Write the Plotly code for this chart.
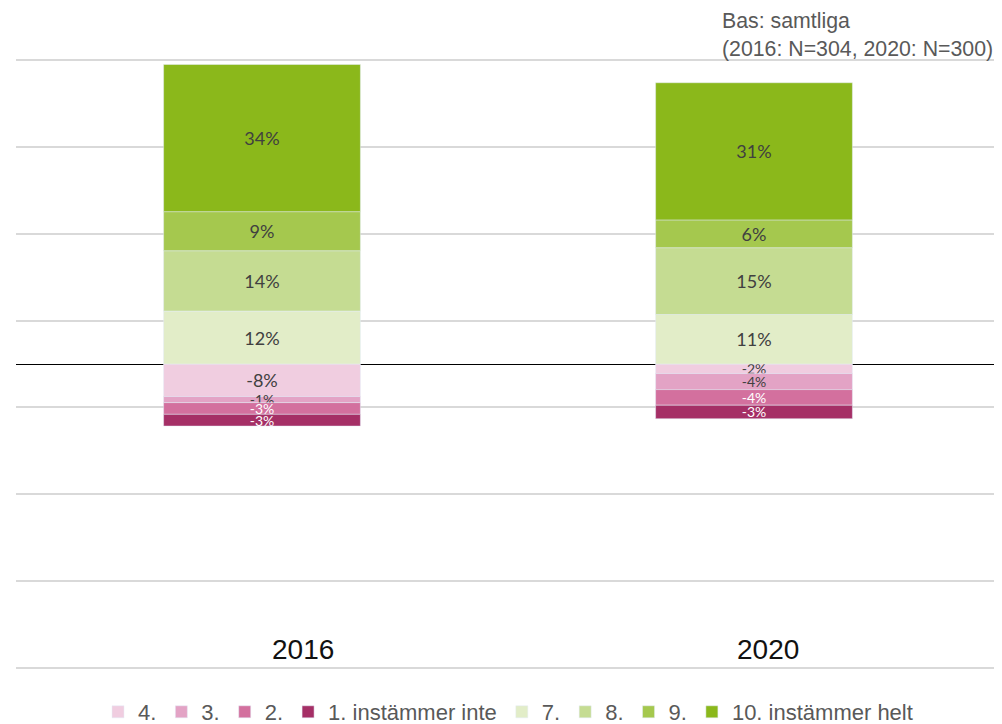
import plotly.graph_objects as go

# år och andelar (%) per svarsalternativ
years = ["2016", "2020"]

neg_labels = ["4.", "3.", "2.", "1. instämmer inte"]
neg_values = [
    [-7.5, -2.2],   # 4.
    [-1.4, -3.7],   # 3.
    [-2.7, -3.6],   # 2.
    [-2.7, -3.1],   # 1.
]
neg_text = [
    ["-8%", "-2%"],
    ["-1%", "-4%"],
    ["-3%", "-4%"],
    ["-3%", "-3%"],
]

pos_labels = ["7.", "8.", "9.", "10. instämmer helt"]
pos_values = [
    [12.2, 11.4],   # 7.
    [13.9, 15.4],   # 8.
    [9.0, 6.4],     # 9.
    [33.9, 31.6],   # 10.
]
pos_text = [
    ["12%", "11%"],
    ["14%", "15%"],
    ["9%", "6%"],
    ["34%", "31%"],
]

neg_colors = ["#F0CDE0", "#E3A3C5", "#D3709E", "#A52F66"]
pos_colors = ["#E2EDC8", "#C5DC92", "#A5C84E", "#8BB81B"]
neg_textcol = ["#404040", "#404040", "#FFFFFF", "#FFFFFF"]

fig = go.Figure()

for lab, vals, txt, col, tc in zip(neg_labels, neg_values, neg_text, neg_colors, neg_textcol):
    sizes = [18 if abs(v) >= 5 else 14 for v in vals]
    fig.add_trace(go.Bar(
        x=years, y=vals, name=lab, marker_color=col, width=0.4,
        text=txt, textposition="inside", insidetextanchor="middle",
        textfont=dict(family="Lato, sans-serif", size=sizes, color=tc),
        constraintext="none", hoverinfo="skip",
    ))

for lab, vals, txt, col in zip(pos_labels, pos_values, pos_text, pos_colors):
    fig.add_trace(go.Bar(
        x=years, y=vals, name=lab, marker_color=col, width=0.4,
        text=txt, textposition="inside", insidetextanchor="middle",
        textfont=dict(family="Lato, sans-serif", size=18, color="#404040"),
        constraintext="none", hoverinfo="skip",
    ))

# årtal inne i diagramytan, strax ovanför nedersta linjen
# (i originalet sitter de lite till höger om staplarnas mitt)
label_shift = [41, 14]
for i, yr in enumerate(years):
    fig.add_annotation(x=i, xref="x", y=0, yref="paper", yanchor="bottom",
                       yshift=3, xshift=label_shift[i], text=yr, showarrow=False,
                       font=dict(family="Liberation Sans, Arial", size=28, color="#111111"))

fig.add_annotation(x=(712 - 8) / (994 - 8 - 2), xref="paper", y=1, yref="paper",
                   showarrow=False,
                   text="Bas: samtliga<br>(2016: N=304, 2020: N=300)",
                   align="left", xanchor="left", yanchor="bottom", yshift=-5,
                   font=dict(family="Liberation Sans, Arial", size=21.3, color="#595959"))

# sidan har 8 px marginal runt diagrammet
fig.update_layout(
    width=994, height=716,
    margin=dict(l=8, r=2, t=50, b=54, autoexpand=False),
    barmode="relative",
    plot_bgcolor="white", paper_bgcolor="white",
    legend=dict(orientation="h", x=0.5, xanchor="center", y=-0.0686, yanchor="middle",
                font=dict(family="Liberation Sans, Arial", size=22, color="#595959"),
                itemwidth=30, traceorder="normal"),
    xaxis=dict(type="category", showticklabels=False, showgrid=False, zeroline=False,
               range=[-0.5, 1.5], fixedrange=True),
    yaxis=dict(range=[-70.5, 70.5], tick0=-70, dtick=20, showticklabels=False,
               gridcolor="#D9D9D9", gridwidth=1.5,
               zeroline=True, zerolinecolor="#000000", zerolinewidth=1),
)

fig.write_html("out.html")
